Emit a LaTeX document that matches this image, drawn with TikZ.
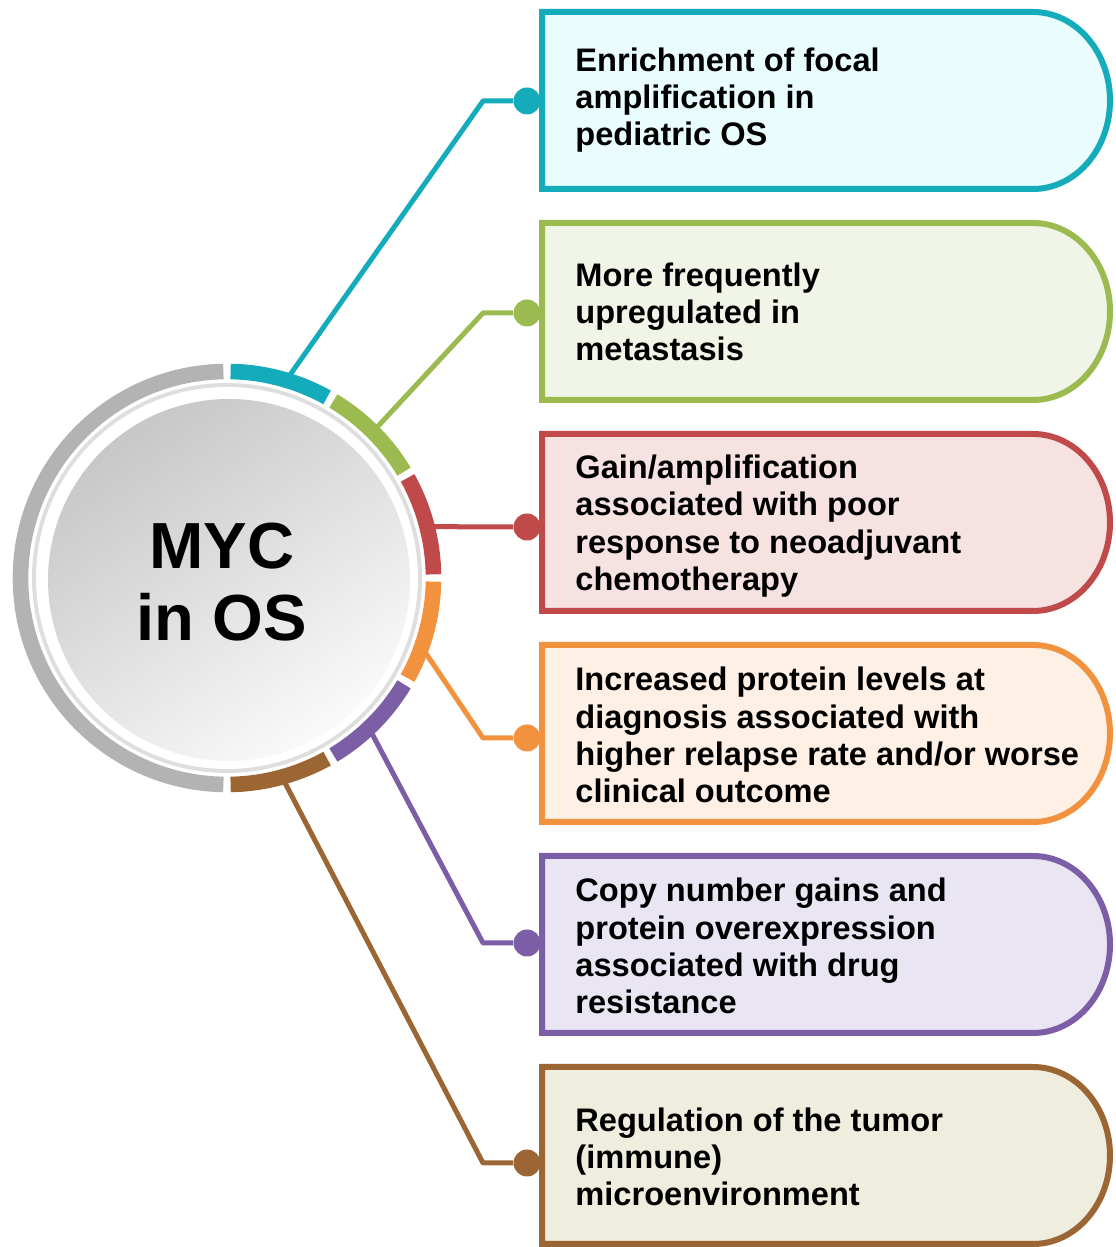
\documentclass[tikz,border=0pt]{standalone}
\usepackage{fontspec}
\setmainfont{Liberation Sans}
\usetikzlibrary{positioning, calc}

\definecolor{cteal}{HTML}{14ABBA}
\definecolor{cgreen}{HTML}{9BBB50}
\definecolor{cred}{HTML}{C0494A}
\definecolor{corange}{HTML}{F3923E}
\definecolor{cpurple}{HTML}{7B5EA6}
\definecolor{cbrown}{HTML}{9C6534}
\definecolor{fteal}{HTML}{EAFDFE}
\definecolor{fgreen}{HTML}{F1F5E7}
\definecolor{fred}{HTML}{F6E3E1}
\definecolor{forange}{HTML}{FEF0E4}
\definecolor{fpurple}{HTML}{E9E5F2}
\definecolor{fbrown}{HTML}{EEEDDE}
\definecolor{cring}{HTML}{B3B3B3}

\tikzset{
    hub/.style={circle, minimum size=199pt, inner sep=0pt},
    hubtxt/.style={align=center, inner sep=0pt, font=\fontsize{32.6}{36}\selectfont\bfseries},
    boxtxt/.style={anchor=west, align=left, inner sep=0pt, font=\fontsize{16.3}{18.6}\selectfont\bfseries},
    link/.style={line width=2.5pt, line join=round},
    dot/.style={circle, inner sep=0pt, minimum size=13.5pt},
    seg/.style={line width=7.8pt},
}

\begin{document}
\begin{tikzpicture}[x=0.5pt, y=0.5pt]
    \useasboundingbox (0,0) rectangle (1115,1247);

    \node[hub] (hub) at (227,669) {};

    % Collegamenti
    \foreach \c/\a/\y [count=\i] in {teal/74/1146, green/45/934, red/15/720, orange/-18/509, purple/-46/304, brown/-75/84} {
        \node[dot, fill=c\c] (d\i) at (527,\y) {};
        \coordinate (k\i) at (483,\y);
        \draw[link, c\c] (hub.\a) -- (k\i) -- (d\i);
    }

    % Cerchio centrale
    \fill[black!13] (hub.center) circle (195);
    \fill[white] (hub.center) circle (191);
    \shade[top color=black!22, bottom color=black!2, shading angle=35] ($(hub.center)+(2,-2)$) circle (181);
    \node[hubtxt] (lbl) at ([xshift=-2.5pt, yshift=-2pt]hub.center) {MYC\\in OS};

    % Anello
    \draw[seg, cring] (hub.center) ++(91:206.5) arc[start angle=91, end angle=269, radius=206.5];
    \foreach \c [count=\i] in {teal, green, red, orange, purple, brown} {
        \draw[seg, c\c] (hub.center) ++({91-30*\i}:206.5) arc[start angle={91-30*\i}, end angle={119-30*\i}, radius=206.5];
    }

    % Riquadri
    \foreach \c/\yt/\yd/\txt [count=\i] in {
        teal/1235/1147/{Enrichment of focal\\amplification in\\pediatric OS},
        green/1024/935/{More frequently\\upregulated in\\metastasis},
        red/813/721/{Gain/amplification\\associated with poor\\response to neoadjuvant\\chemotherapy},
        orange/602/512/{Increased protein levels at\\diagnosis associated with\\higher relapse rate and/or worse\\clinical outcome},
        purple/391/301/{Copy number gains and\\protein overexpression\\associated with drug\\resistance},
        brown/180/90/{Regulation of the tumor\\(immune)\\microenvironment}} {
        \filldraw[draw=c\c, fill=f\c, line width=3pt] (542,\yt-177) -- (542,\yt) -- (1033,\yt)
            arc[start angle=90, end angle=-90, x radius=77, y radius=88.5] -- cycle;
        \node[boxtxt] (t\i) at (575,\yd) {\txt};
    }
\end{tikzpicture}
\end{document}
